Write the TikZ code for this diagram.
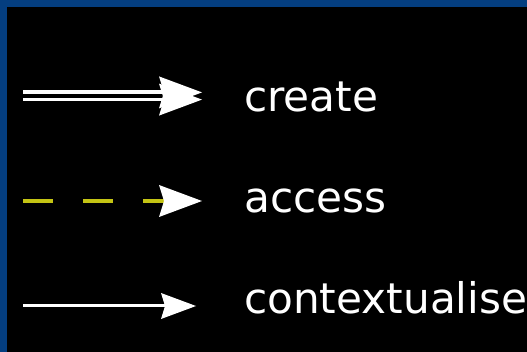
\documentclass[tikz,border=0pt]{standalone}
\usepackage{fontspec}
\setmainfont{DejaVu Sans}
\usetikzlibrary{arrows.meta}
\definecolor{frameblue}{RGB}{4,62,128}
\definecolor{dashyellow}{RGB}{196,196,20}
\tikzset{
  legendlabel/.style={anchor=base west, inner sep=0pt, text=white,
    font=\fontsize{42.2}{50}\selectfont},
  bighead/.style={-{Stealth[length=43pt, width=32pt, inset=5pt, line width=0pt, color=white]}},
  smallhead/.style={-{Stealth[length=35pt, width=26pt, inset=4pt, line width=0pt, color=white]}},
  createline/.style={white, line width=3.8pt, bighead},
  accessline/.style={dashyellow, line width=4pt, dash pattern=on 30pt off 30pt, bighead},
  contextline/.style={white, line width=3pt, smallhead},
}
\begin{document}
\begin{tikzpicture}[x=1pt, y=-1pt]
  % frame and background
  \fill[frameblue] (0,0) rectangle (527,352);
  \fill[black] (7,7) rectangle (527,352);
  \useasboundingbox (0,0) rectangle (527,352);

  % end points of the legend arrows
  \coordinate (cs) at (23,96);
  \coordinate (ce) at (202,96);
  \coordinate (as) at (23,201);
  \coordinate (ae) at (202,201);
  \coordinate (xs) at (23,306);
  \coordinate (xe) at (196,306);

  % create: double line
  \draw[createline] ([yshift=3.6pt]cs) -- ([yshift=3.6pt]ce);
  \draw[createline] ([yshift=-3.6pt]cs) -- ([yshift=-3.6pt]ce);
  % access: dashed line
  \draw[accessline] (as) -- (ae);
  % contextualise: single line
  \draw[contextline] (xs) -- (xe);

  % labels
  \node[legendlabel] (lcreate) at (244,112) {create};
  \node[legendlabel] (laccess) at (244,213) {access};
  \node[legendlabel] (lcontext) at (244,314) {contextualise};
\end{tikzpicture}
\end{document}
